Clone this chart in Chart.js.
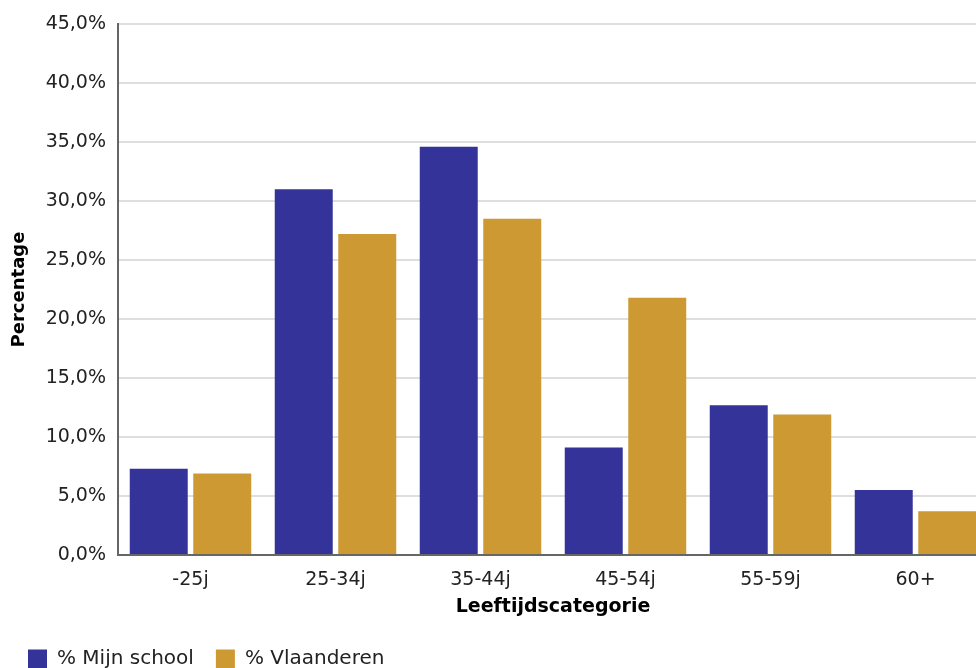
<!DOCTYPE html>
<html>
<head>
<meta charset="utf-8">
<script src="https://cdn.jsdelivr.net/npm/chart.js@4"></script>
<style>
    html, body { margin: 0; padding: 0; background: #fff; overflow: hidden; }
    #wrap { position: relative; width: 976px; height: 668px; overflow: hidden; }
    #box { position: absolute; left: 0; top: 0; width: 1000px; height: 679px; }
</style>
</head>
<body>
<div id="wrap"><div id="box"><canvas id="ageChart"></canvas></div></div>
<script>
const categories = ['-25j', '25-34j', '35-44j', '45-54j', '55-59j', '60+'];
const mijnSchool = [7.3, 31.0, 34.6, 9.1, 12.7, 5.5];
const vlaanderen = [6.9, 27.2, 28.5, 21.8, 11.9, 3.7];
const seriesLabels = ['% Mijn school', '% Vlaanderen'];

const FONT = 'DejaVu Sans';

function formatPct(value) {
    return value.toFixed(1).replace('.', ',') + '%';
}

const ctx = document.getElementById('ageChart');

new Chart(ctx, {
    type: 'bar',
    data: {
        labels: categories,
        datasets: [
            {
                label: seriesLabels[0],
                data: mijnSchool,
                backgroundColor: '#333399',
                borderWidth: 0,
                categoryPercentage: 0.876,
                barPercentage: 0.913
            },
            {
                label: seriesLabels[1],
                data: vlaanderen,
                backgroundColor: '#cc9933',
                borderWidth: 0,
                categoryPercentage: 0.876,
                barPercentage: 0.913
            }
        ]
    },
    options: {
        responsive: true,
        maintainAspectRatio: false,
        animation: false,
        devicePixelRatio: 1,
        layout: {
            padding: { left: 6, right: 12, top: 24, bottom: 0 }
        },
        plugins: {
            legend: {
                position: 'bottom',
                align: 'start',
                labels: {
                    boxWidth: 19,
                    boxHeight: 19,
                    padding: 22,
                    color: '#222',
                    font: { family: FONT, size: 20 }
                }
            },
            tooltip: { enabled: false }
        },
        scales: {
            x: {
                grid: { display: false, drawTicks: false },
                border: { display: true, color: '#666', width: 2 },
                ticks: {
                    padding: 14,
                    color: '#222',
                    font: { family: FONT, size: 19 }
                },
                title: {
                    display: true,
                    text: 'Leeftijdscategorie',
                    color: '#000',
                    padding: { top: 0, bottom: 9 },
                    font: { family: FONT, size: 19, weight: 'bold' }
                },
                afterFit: scale => { scale.height = 72; }
            },
            y: {
                min: 0,
                max: 45,
                grid: { color: '#dedede', lineWidth: 2, drawTicks: false },
                border: { display: true, color: '#666', width: 2 },
                ticks: {
                    stepSize: 5,
                    padding: 12,
                    color: '#222',
                    font: { family: FONT, size: 19 },
                    callback: value => formatPct(value)
                },
                title: {
                    display: true,
                    text: 'Percentage',
                    color: '#000',
                    padding: { top: 3, bottom: 0 },
                    font: { family: FONT, size: 18, weight: 'bold' }
                },
                afterFit: scale => { scale.width = 112; }
            }
        }
    }
});
</script>
</body>
</html>
